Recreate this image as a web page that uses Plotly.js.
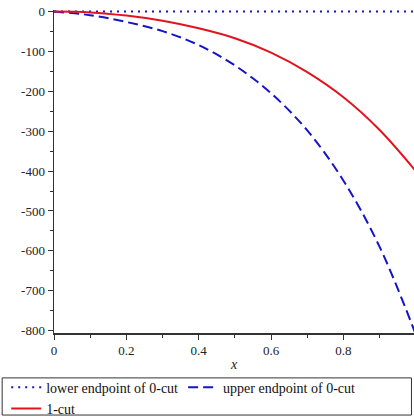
<!DOCTYPE html>
<html>
<head>
<meta charset="utf-8">
<script src="https://cdn.plot.ly/plotly-3.0.1.min.js"></script>
<style>html,body{margin:0;padding:0;background:#fff;}#chart{width:414px;height:419px;}</style>
</head>
<body>
<div id="chart"></div>
<script>
const xs = [0, 0.1, 0.2, 0.3, 0.4, 0.5, 0.6, 0.7, 0.8, 0.9, 1.0];
const lowerEndpoint = [0, 0, 0, 0, 0, 0, 0, 0, 0, 0, 0];
const upperEndpoint = [0, -9, -26, -49, -84, -135, -205, -298, -424, -590, -810];
const oneCut = [0, -2, -10, -23, -42, -67, -103, -152, -215, -297, -400];
const yTickVals = [0, -100, -200, -300, -400, -500, -600, -700, -800];
const yTickText = ["0", "-100", "-200", "-300", "-400", "-500", "-600", "-700", "-800"];
const xTickVals = [0, 0.2, 0.4, 0.6, 0.8, 1.0];
const xTickText = ["0", "0.2", "0.4", "0.6", "0.8", "1"];
const seriesNames = ["lower endpoint of 0-cut", "upper endpoint of 0-cut", "1-cut"];

const font = "serif";
const traces = [
  {x: xs, y: lowerEndpoint, name: seriesNames[0], mode: "lines",
   line: {color: "rgb(20,20,200)", width: 2, dash: "2px,5px"}},
  {x: xs, y: upperEndpoint, name: seriesNames[1], mode: "lines",
   line: {color: "rgb(20,20,200)", width: 2, dash: "10px,5px", shape: "spline", smoothing: 1}},
  {x: xs, y: oneCut, name: seriesNames[2], mode: "lines",
   line: {color: "rgb(225,20,30)", width: 2, shape: "spline", smoothing: 1}}
];
const layout = {
  width: 414, height: 419,
  margin: {l: 54, r: 0, t: 10, b: 86},
  paper_bgcolor: "#fff", plot_bgcolor: "#fff",
  font: {family: font, size: 13, color: "#222"},
  showlegend: true,
  xaxis: {
    range: [0, 0.995], showgrid: false, zeroline: false,
    showline: true, linecolor: "#333", linewidth: 1.5,
    tickmode: "array", tickvals: xTickVals, ticktext: xTickText,
    ticks: "outside", ticklen: 5, tickcolor: "#333",
    minor: {dtick: 0.1, ticks: "outside", ticklen: 3, tickcolor: "#333"},
    tickfont: {family: font, size: 13, color: "#222"},
    title: {text: "<i>x</i>", font: {family: font, size: 14, color: "#222"}, standoff: 6}
  },
  yaxis: {
    range: [-806, 4], showgrid: false, zeroline: false,
    showline: true, linecolor: "#333", linewidth: 1.5,
    tickmode: "array", tickvals: yTickVals, ticktext: yTickText,
    ticks: "outside", ticklen: 5, tickcolor: "#333",
    minor: {dtick: 50, ticks: "outside", ticklen: 3, tickcolor: "#333"},
    tickfont: {family: font, size: 13, color: "#222"}
  },
  legend: {
    orientation: "h", xref: "container", yref: "container",
    x: 0.015, xanchor: "left", y: 0.113, yanchor: "top",
    font: {family: font, size: 14, color: "#111"},
    bgcolor: "rgba(0,0,0,0)", borderwidth: 0,
    itemwidth: 30, tracegroupgap: 0
  },
  shapes: [{type: "rect", xref: "paper", yref: "paper",
    x0: -0.144, x1: 0.993, y0: -0.139, y1: -0.254,
    line: {color: "#333", width: 1}, fillcolor: "rgba(0,0,0,0)"}]
};
Plotly.newPlot("chart", traces, layout, {staticPlot: true, displayModeBar: false});
</script>
</body>
</html>
